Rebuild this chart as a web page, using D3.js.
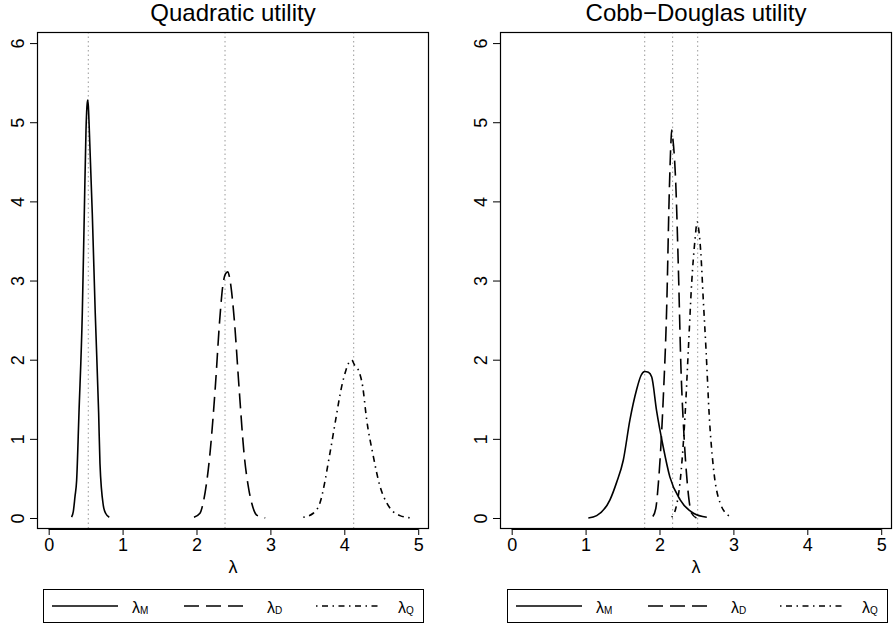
<!DOCTYPE html>
<html>
<head>
<meta charset="utf-8">
<script src="https://cdn.jsdelivr.net/npm/d3@7"></script>
<style>
  body { margin: 0; background: #fff; }
  svg text { font-family: "Liberation Sans", Arial, Helvetica, sans-serif; fill: #000; }
</style>
</head>
<body>
<div id="chart"></div>
<script>
// panel titles and tick labels
var titles = ["Quadratic utility", "Cobb\u2212Douglas utility"];
var xTicks = [0, 1, 2, 3, 4, 5];
var yTicks = [0, 1, 2, 3, 4, 5, 6];
var seriesNames = ["M", "D", "Q"];

// medians (dotted vertical lines)
var quadMedians = [0.536, 2.386, 4.127];
var cobbMedians = [1.80, 2.178, 2.517];

// quadratic utility densities
var quadM_x = [0.31, 0.333, 0.356, 0.378, 0.41, 0.455, 0.482, 0.505, 0.518, 0.527, 0.537, 0.548, 0.59, 0.63, 0.676, 0.694, 0.739, 0.77, 0.82];
var quadM_y = [0.01, 0.08, 0.27, 0.47, 1.33, 2.59, 3.85, 4.9, 5.2, 5.28, 5.2, 4.95, 3.85, 2.59, 1.33, 0.69, 0.16, 0.06, 0.01];
var quadD_x = [1.966, 2.047, 2.09, 2.183, 2.255, 2.314, 2.354, 2.39, 2.422, 2.445, 2.467, 2.512, 2.575, 2.643, 2.71, 2.747, 2.81, 2.86, 2.93];
var quadD_y = [0.01, 0.06, 0.19, 0.82, 1.66, 2.5, 2.92, 3.08, 3.11, 3.05, 2.92, 2.5, 1.66, 0.82, 0.35, 0.19, 0.04, 0.02, 0.0];
var quadQ_x = [3.445, 3.58, 3.67, 3.806, 3.883, 3.964, 4.023, 4.06, 4.10, 4.14, 4.19, 4.249, 4.303, 4.384, 4.483, 4.574, 4.66, 4.754, 4.91];
var quadQ_y = [0.01, 0.06, 0.19, 0.82, 1.24, 1.66, 1.87, 1.96, 1.995, 1.93, 1.87, 1.66, 1.24, 0.82, 0.4, 0.19, 0.08, 0.03, 0.0];

// cobb-douglas utility densities
var cobbM_x = [1.037, 1.15, 1.33, 1.42, 1.51, 1.60, 1.69, 1.75, 1.80, 1.85, 1.895, 1.96, 2.05, 2.14, 2.28, 2.46, 2.64];
var cobbM_y = [0.0, 0.03, 0.23, 0.45, 0.73, 1.24, 1.62, 1.8, 1.85, 1.84, 1.78, 1.36, 0.9, 0.52, 0.23, 0.06, 0.01];
var cobbD_x = [1.91, 1.95, 1.985, 2.05, 2.10, 2.13, 2.155, 2.165, 2.18, 2.22, 2.255, 2.29, 2.33, 2.376, 2.435, 2.50];
var cobbD_y = [0.02, 0.12, 0.44, 1.49, 2.75, 4.02, 4.75, 4.9, 4.8, 4.23, 3.17, 1.91, 1.07, 0.44, 0.06, 0.0];
var cobbQ_x = [2.165, 2.22, 2.277, 2.345, 2.39, 2.435, 2.48, 2.51, 2.53, 2.557, 2.593, 2.63, 2.674, 2.728, 2.82, 2.95];
var cobbQ_y = [0.01, 0.12, 0.44, 1.28, 2.12, 2.96, 3.51, 3.74, 3.65, 3.38, 2.75, 2.12, 1.28, 0.65, 0.19, 0.02];

var dashes = ["none", "15,7", "1.5,4.5,6,4.5"];

var svgWidth = 893, svgHeight = 625;
var svg = d3.select("#chart").append("svg")
  .attr("width", svgWidth)
  .attr("height", svgHeight);

function zip(xs, ys) { return xs.map(function(x, i) { return [x, ys[i]]; }); }

var panels = [
  { left: 37, title: titles[0], medians: quadMedians,
    series: [zip(quadM_x, quadM_y), zip(quadD_x, quadD_y), zip(quadQ_x, quadQ_y)] },
  { left: 500, title: titles[1], medians: cobbMedians,
    series: [zip(cobbM_x, cobbM_y), zip(cobbD_x, cobbD_y), zip(cobbQ_x, cobbQ_y)] }
];

var boxW = 392, plotTop = 32, plotBottom = 529;

panels.forEach(function(p, pi) {
  var g = svg.append("g").attr("transform", `translate(${p.left}, 0)`);

  var x = d3.scaleLinear().domain([-0.158, 5.146]).range([0, boxW]);
  var y = d3.scaleLinear().domain([-0.139, 6.14]).range([plotBottom, plotTop]);

  // dotted medians
  g.selectAll(".med")
    .data(p.medians)
    .enter().append("line")
    .attr("x1", d => x(d)).attr("x2", d => x(d))
    .attr("y1", plotTop).attr("y2", plotBottom)
    .attr("stroke", "#9a9a9a")
    .attr("stroke-width", 1)
    .attr("stroke-dasharray", "1.5,3");

  // density curves
  var line = d3.line()
    .x(d => x(d[0]))
    .y(d => y(d[1]))
    .curve(d3.curveMonotoneX);

  g.selectAll(".curve")
    .data(p.series)
    .enter().append("path")
    .attr("d", line)
    .attr("fill", "none")
    .attr("stroke", "#000")
    .attr("stroke-width", 1.6)
    .attr("stroke-dasharray", (d, i) => dashes[i]);

  // box
  g.append("rect")
    .attr("x", 0.5).attr("y", plotTop + 0.5)
    .attr("width", boxW - 1).attr("height", plotBottom - plotTop - 1)
    .attr("fill", "none").attr("stroke", "#000").attr("stroke-width", 1.2);

  // x axis
  var xAxis = d3.axisBottom(x).tickValues(xTicks).tickSize(6).tickPadding(3).tickFormat(d3.format("d"));
  var xg = g.append("g").attr("transform", `translate(0, ${plotBottom})`).call(xAxis);
  xg.select(".domain").attr("d", `M${x(0)},0.5H${x(5)}`);
  xg.selectAll("text").attr("font-size", 18).attr("font-family", "Liberation Sans, Arial, sans-serif");

  // y axis
  var yAxis = d3.axisLeft(y).tickValues(yTicks).tickSize(7).tickFormat(d3.format("d"));
  var yg = g.append("g").call(yAxis);
  yg.select(".domain").attr("d", `M0.5,${y(0)}V${y(6)}`);
  yg.selectAll("text")
    .attr("font-size", 18)
    .attr("font-family", "Liberation Sans, Arial, sans-serif")
    .attr("x", 0).attr("y", 0).attr("dy", 0)
    .attr("text-anchor", "middle")
    .attr("transform", "translate(-13, 0) rotate(-90)");

  // title
  g.append("text")
    .attr("x", boxW / 2).attr("y", 21)
    .attr("text-anchor", "middle")
    .attr("font-size", 24)
    .text(p.title);

  // x label
  g.append("text")
    .attr("x", boxW / 2).attr("y", 573)
    .attr("text-anchor", "middle")
    .attr("font-size", 18)
    .text("\u03bb");

  // legend
  var lg = g.append("g").attr("transform", `translate(${6 + pi}, 0)`);
  lg.append("rect")
    .attr("x", 0.5).attr("y", 589.5)
    .attr("width", 380).attr("height", 33)
    .attr("fill", "#fff").attr("stroke", "#000").attr("stroke-width", 1);

  var items = lg.selectAll(".item")
    .data(seriesNames)
    .enter().append("g")
    .attr("transform", (d, i) => `translate(${9 + i * 132}, 606)`);

  items.append("line")
    .attr("x1", 0).attr("x2", d => 66 - (d === "Q" ? 2 : 0))
    .attr("stroke", "#000").attr("stroke-width", 1.6)
    .attr("stroke-dasharray", (d, i) => dashes[i]);

  var lt = items.append("text")
    .attr("x", (d, i) => [80, 83, 82][i]).attr("y", 7)
    .attr("font-size", 16);
  lt.append("tspan").text("\u03bb");
  lt.append("tspan").attr("font-size", 10).attr("dy", 1).text(d => d);
});
</script>
</body>
</html>
